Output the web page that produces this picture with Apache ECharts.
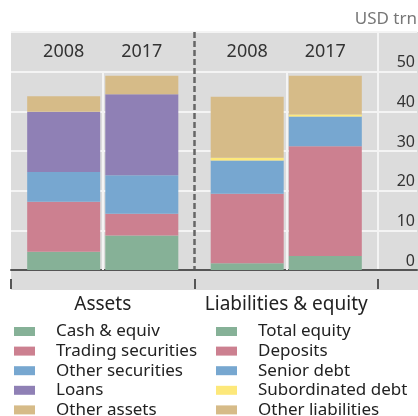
<!DOCTYPE html>
<html>
<head>
<meta charset="UTF-8">
<title></title>
<script src="https://cdn.jsdelivr.net/npm/echarts@6/dist/echarts.min.js"></script>
<style>
  html, body { margin: 0; padding: 0; background: #fff; }
</style>
</head>
<body>
<div id="main" style="width: 418px;height:416px;"></div>
<script>
    // 数据
    var categories = ['Assets', 'Liabilities & equity'];
    var years = ['2008', '2017'];
    var assetNames = ['Cash & equiv', 'Trading securities', 'Other securities', 'Loans', 'Other assets'];
    var liabNames = ['Total equity', 'Deposits', 'Senior debt', 'Subordinated debt', 'Other liabilities'];
    var assets2008 = [4.6, 12.6, 7.5, 15.2, 3.9];
    var assets2017 = [8.7, 5.5, 9.7, 20.4, 4.7];
    var liab2008 = [1.7, 17.5, 8.4, 0.7, 15.4];
    var liab2017 = [3.5, 27.7, 7.5, 0.5, 9.8];
    var yTicks = [0, 10, 20, 30, 40, 50];

    var colors = ['#86b197', '#cc8090', '#77a7d0', '#8f80b5', '#d6bb88'];
    var liabColors = ['#86b197', '#cc8090', '#77a7d0', '#fde87a', '#d6bb88'];

    var font = 'Noto Sans';
    var barW = 73;

    var myChart = echarts.init(document.getElementById('main'));

    var series = [];
    var assetData = [assets2008, assets2017];
    var liabData = [liab2008, liab2017];
    for (var y = 0; y < years.length; y++) {
        for (var i = 0; i < assetNames.length; i++) {
            series.push({
                name: assetNames[i], type: 'bar', stack: years[y],
                barWidth: barW, barGap: '7%',
                itemStyle: {color: colors[i]},
                data: [assetData[y][i], '-']
            });
        }
        for (var j = 0; j < liabNames.length; j++) {
            series.push({
                name: liabNames[j], type: 'bar', stack: years[y],
                barWidth: barW, barGap: '7%',
                itemStyle: {color: liabColors[j]},
                data: ['-', liabData[y][j]]
            });
        }
    }
    // white lines between the two years of each group
    series.push({
        type: 'line', data: [], silent: true,
        markLine: {
            symbol: 'none', silent: true, label: {show: false}, z: 1,
            lineStyle: {color: '#f4f4f4', width: 2, type: 'solid'},
            data: categories.map(function (c) {
                return [{coord: [c, yTicks[0]]}, {coord: [c, yTicks[yTicks.length - 1]]}];
            })
        }
    });

    var legendText = {fontFamily: font, fontSize: 17, color: '#222', padding: [0, 0, 0, 16]};

    option = {
        animation: false,
        textStyle: {fontFamily: font},
        legend: [
            {data: assetNames, orient: 'vertical', left: 14, top: 323, height: 120, padding: 0, icon: 'rect',
             itemWidth: 21, itemHeight: 9, itemGap: 2.6, textStyle: legendText},
            {data: liabNames, orient: 'vertical', left: 216, top: 323, height: 120, padding: 0, icon: 'rect',
             itemWidth: 21, itemHeight: 9, itemGap: 2.6, textStyle: legendText}
        ],
        grid: [
            {left: 11, right: 40, top: 32, bottom: 146},
            {left: 378, right: 0, top: 32, bottom: 146}
        ],
        xAxis: [
            {type: 'category', data: categories, gridIndex: 0,
             axisLine: {lineStyle: {color: '#555', width: 2}},
             axisTick: {show: false},
             axisLabel: {interval: 0, margin: 25, fontSize: 19, color: '#222', fontFamily: font},
             splitLine: {show: true, interval: 0,
                 lineStyle: {color: ['rgba(0,0,0,0)', '#666', 'rgba(0,0,0,0)'], width: 2.5, type: [6, 3]}}},
            {type: 'category', data: categories, gridIndex: 0, position: 'bottom', offset: 9,
             axisLine: {show: false},
             axisTick: {show: true, length: 10, lineStyle: {color: '#555', width: 2}},
             axisLabel: {show: false}},
            {type: 'category', data: [''], gridIndex: 1,
             axisLine: {lineStyle: {color: '#555', width: 2}},
             axisTick: {show: false}, axisLabel: {show: false}}
        ],
        yAxis: [
            {type: 'value', gridIndex: 0, position: 'right', min: 0, max: 60, interval: 10,
             axisLine: {show: true, lineStyle: {color: '#f4f4f4', width: 2}},
             axisTick: {show: false}, axisLabel: {show: false},
             splitLine: {lineStyle: {color: '#f4f4f4', width: 2}}},
            {type: 'value', gridIndex: 1, position: 'right', min: 0, max: 60, interval: 10,
             axisLine: {show: false}, axisTick: {show: false},
             axisLabel: {inside: true, margin: 2, fontSize: 16, color: '#333', fontFamily: font,
                 verticalAlign: 'bottom', padding: [0, 0, 1, 0],
                 formatter: function (v) { return yTicks.indexOf(v) >= 0 ? String(v) : ''; }},
             splitLine: {lineStyle: {color: '#f4f4f4', width: 2}}}
        ],
        graphic: [
            {type: 'rect', z: -10, silent: true, shape: {x: 11, y: 32, width: 407, height: 258},
             style: {fill: '#dcdcdc'}},
            {type: 'text', right: 1, top: 11, silent: true,
             style: {text: 'USD trn', fontFamily: font, fontSize: 17, fill: '#777'}}
        ],
        series: series
    };

    myChart.setOption(option);

    // year labels above each bar, positioned from the category axis
    var yearText = [];
    var off = (barW + barW * 0.07) / 2;
    categories.forEach(function (c) {
        var cx = myChart.convertToPixel({xAxisIndex: 0}, c);
        years.forEach(function (yr, k) {
            yearText.push({
                type: 'text', x: cx + (k === 0 ? -off : off), y: 52, silent: true,
                style: {text: yr, fontFamily: font, fontSize: 18, fill: '#333',
                        textAlign: 'center', textVerticalAlign: 'middle'}
            });
        });
    });
    myChart.setOption({graphic: option.graphic.concat(yearText)});
</script>
</body>
</html>
